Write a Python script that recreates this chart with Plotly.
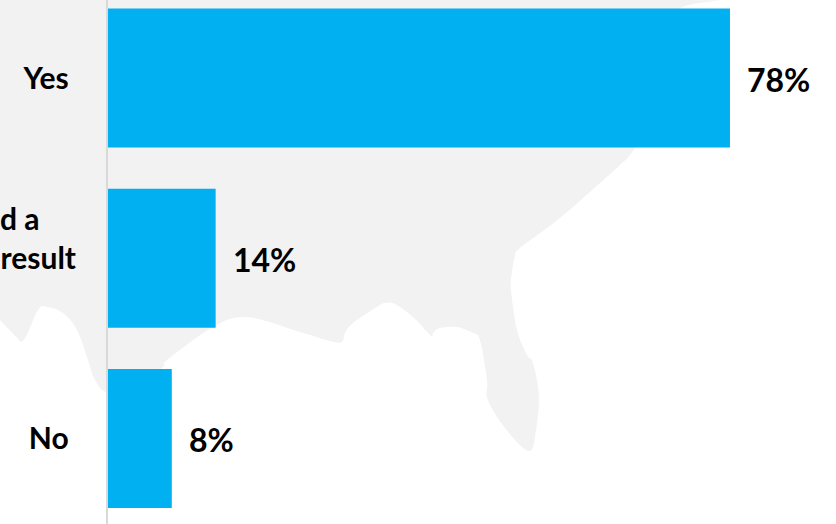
import plotly.graph_objects as go

categories = ["Yes", "Inconclusive", "No"]
tick_labels = ["Yes\u00a0", "d a" + "\u00a0" * 5 + "<br>result<br>\u00a0", "No\u00a0"]
values = [78, 13.5, 8]
value_labels = ["78%", "14%", "8%"]

W, H = 836, 524
LEFT = 108
FONT = "Lato"

# Decorative backdrop silhouette, traced in page pixels
outline = [
    (0, 0), (686, 0), (677, 12), (660, 100), (635, 148), (620, 165), (600, 183), (560, 218),
    (520, 248), (515, 256), (512, 272), (511, 290),
    (517, 330), (527, 355), (533, 363), (539, 397), (535, 437), (530, 451),
    (517, 442), (497, 417), (487, 397), (487, 380), (480, 340), (473, 333),
    (457, 327), (440, 328), (433, 333), (431, 336), (413, 317), (395, 304),
    (385, 303), (380, 305), (353, 323), (345, 333), (342, 342), (330, 341),
    (300, 332), (247, 317), (213, 327), (167, 360), (163, 367), (135, 385),
    (107, 392), (95, 380), (88, 360), (77, 330), (63, 313), (47, 307),
    (38, 310), (21, 342), (0, 320),
]


def to_paper(p):
    return (p[0] - LEFT) / (W - LEFT), 1 - p[1] / H


def smooth_path(points):
    out = ["M %.4f %.4f" % to_paper(points[0])]
    n = len(points)
    for i in range(n - 1):
        p0 = points[max(i - 1, 0)]
        p1 = points[i]
        p2 = points[i + 1]
        p3 = points[min(i + 2, n - 1)]
        k = 0.0 if i == 0 or i == n - 2 else 1 / 6
        c1 = (p1[0] + (p2[0] - p0[0]) * k, p1[1] + (p2[1] - p0[1]) * k)
        c2 = (p2[0] - (p3[0] - p1[0]) * k, p2[1] - (p3[1] - p1[1]) * k)
        out.append("C %.4f %.4f %.4f %.4f %.4f %.4f" % (*to_paper(c1), *to_paper(c2), *to_paper(p2)))
    return " ".join(out) + " Z"


fig = go.Figure(
    go.Bar(
        x=values,
        y=categories,
        orientation="h",
        marker=dict(color="#00b0f0", line=dict(width=0)),
        hoverinfo="skip",
    )
)

annotations = [
    dict(
        x=v, y=c, text=t, xref="x", yref="y", xanchor="left", yanchor="middle",
        xshift=15, yshift=-1, showarrow=False,
        font=dict(family=FONT, size=32, color="#000000", weight="bold"),
    )
    for v, c, t in zip(values, categories, value_labels)
]

fig.update_layout(
    width=W,
    height=H,
    margin=dict(l=LEFT, r=0, t=0, b=0, pad=0),
    autosize=False,
    paper_bgcolor="white",
    plot_bgcolor="rgba(0,0,0,0)",
    showlegend=False,
    bargap=0.229,
    annotations=annotations,
    shapes=[
        dict(
            type="path", xref="paper", yref="paper", path=smooth_path(outline),
            fillcolor="#f2f2f2", line=dict(width=0), layer="below",
        )
    ],
    xaxis=dict(range=[0, (W - LEFT) / 7.974], visible=False, fixedrange=True, automargin=False),
    yaxis=dict(
        automargin=False,
        categoryorder="array",
        categoryarray=categories,
        range=[2.474, -0.4327],
        tickmode="array",
        tickvals=categories,
        ticktext=tick_labels,
        ticks="",
        showgrid=False,
        zeroline=False,
        showline=True,
        linecolor="#d9d9d9",
        linewidth=2,
        ticklabelstandoff=24,
        tickfont=dict(family=FONT, size=30, color="#000000", weight="bold"),
    ),
)

fig.write_html(
    "out.html",
    config={"displayModeBar": False},
    post_script="document.body.style.margin='0';document.documentElement.style.overflow='hidden';",
)
